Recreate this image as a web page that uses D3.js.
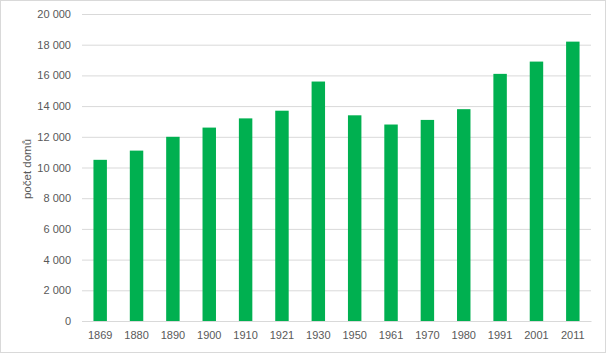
<!DOCTYPE html>
<html><head>
<meta charset="utf-8">
<script src="https://d3js.org/d3.v7.min.js"></script>
<style>
  body { margin: 0; background: #fff; }
  text { font-family: "Liberation Sans", Arial, sans-serif; fill: #595959; }
</style>
</head>
<body>
<svg id="chart" width="606" height="353"></svg>
<script>
  const years = ["1869","1880","1890","1900","1910","1921","1930","1950","1961","1970","1980","1991","2001","2011"];
  const houses = [10500, 11100, 12000, 12600, 13200, 13700, 15600, 13400, 12800, 13100, 13800, 16100, 16900, 18200];
  const yTicks = [0, 2000, 4000, 6000, 8000, 10000, 12000, 14000, 16000, 18000, 20000];
  const yLabel = "počet domů";

  const svg = d3.select("svg#chart");
  const width = +svg.attr("width");
  const height = +svg.attr("height");

  // chart frame
  svg.append("rect")
    .attr("x", 0.5).attr("y", 0.5)
    .attr("width", width - 1).attr("height", height - 1)
    .attr("fill", "#fff").attr("stroke", "#d9d9d9");

  const margin = {left: 82, right: 15, top: 14, bottom: 32};

  const x = d3.scaleBand()
    .domain(years)
    .range([margin.left, width - margin.right])
    .paddingInner(0.63).paddingOuter(0.315);

  const y = d3.scaleLinear()
    .domain([0, 20000])
    .range([height - margin.bottom, margin.top]);

  const fmt = d => d3.format(",")(d).replace(/,/g, " ");

  // gridlines + y labels
  const yAxis = d3.axisLeft(y)
    .tickValues(yTicks)
    .tickSize(-(width - margin.left - margin.right))
    .tickPadding(11)
    .tickFormat(fmt);

  const gy = svg.append("g")
    .attr("transform", `translate(${margin.left},0)`)
    .call(yAxis);
  gy.select(".domain").remove();
  gy.selectAll(".tick line").attr("stroke", "#d9d9d9");
  gy.selectAll(".tick text").attr("font-size", 11).attr("fill", "#595959");

  // bars
  svg.append("g").selectAll("rect.bar").data(years)
    .join("rect")
    .attr("class", "bar")
    .attr("x", d => x(d))
    .attr("width", x.bandwidth())
    .attr("y", (d, i) => y(houses[i]))
    .attr("height", (d, i) => y(0) - y(houses[i]))
    .attr("fill", "#00b050");

  // x axis
  const gx = svg.append("g")
    .attr("transform", `translate(0,${y(0)})`)
    .call(d3.axisBottom(x).tickSize(0).tickPadding(10));
  gx.select(".domain").attr("stroke", "#d9d9d9");
  gx.selectAll(".tick text").attr("font-size", 11).attr("fill", "#595959");

  // y title
  svg.append("text")
    .attr("transform", `translate(31,169) rotate(-90)`)
    .attr("text-anchor", "middle")
    .attr("font-size", 11.5)
    .text(yLabel);
</script>
</body>
</html>
